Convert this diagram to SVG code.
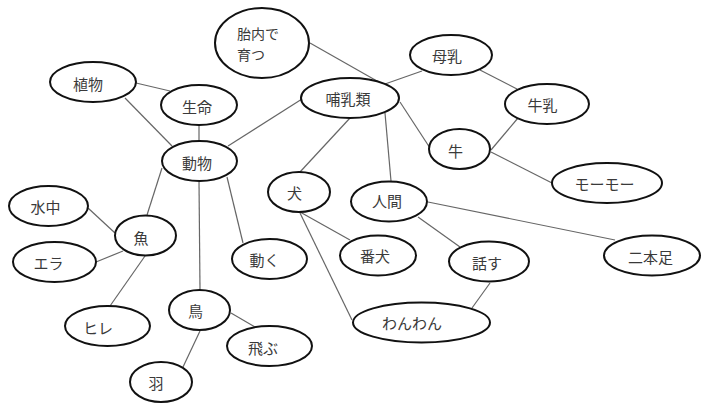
<svg xmlns="http://www.w3.org/2000/svg" width="718" height="414" viewBox="0 0 718 414">
<style>
.n ellipse{fill:#fff;stroke:#111;stroke-width:2}
.n text{font-family:"Noto Sans CJK JP","Noto Sans CJK SC",sans-serif;font-size:15px;fill:#3a3a3a;text-anchor:middle}
#n-tainai text{font-size:14px;text-anchor:start}
#edges line{stroke:#666;stroke-width:1.2}
</style>
<rect width="718" height="414" fill="#fff"/>
<g id="edges">
<line x1="136" y1="83" x2="170" y2="91"/>
<line x1="125" y1="98" x2="172" y2="146"/>
<line x1="199" y1="125" x2="199" y2="141"/>
<line x1="228" y1="146" x2="302" y2="99"/>
<line x1="310" y1="43" x2="384" y2="85"/>
<line x1="385" y1="84" x2="422" y2="71"/>
<line x1="400" y1="102" x2="430" y2="148"/>
<line x1="480" y1="70" x2="517" y2="89"/>
<line x1="518" y1="118" x2="491" y2="150"/>
<line x1="491" y1="152" x2="552" y2="183"/>
<line x1="350" y1="118" x2="300" y2="172"/>
<line x1="385" y1="113" x2="391" y2="181"/>
<line x1="428" y1="202" x2="615" y2="240"/>
<line x1="418" y1="217" x2="460" y2="247"/>
<line x1="300" y1="212" x2="350" y2="240"/>
<line x1="300" y1="213" x2="352" y2="320"/>
<line x1="490" y1="283" x2="472" y2="308"/>
<line x1="162" y1="168" x2="147" y2="215"/>
<line x1="199" y1="181" x2="200" y2="290"/>
<line x1="227" y1="177" x2="243" y2="243"/>
<line x1="88" y1="208" x2="115" y2="233"/>
<line x1="96" y1="262" x2="123" y2="251"/>
<line x1="145" y1="256" x2="110" y2="306"/>
<line x1="231" y1="313" x2="255" y2="327"/>
<line x1="200" y1="331" x2="183" y2="367"/>
</g>
<g id="n-tainai" class="n"><ellipse cx="262" cy="43" rx="47" ry="35"/><text x="237" y="38.5">胎内で</text><text x="237" y="59.5">育つ</text></g>
<g id="n-shokubutsu" class="n"><ellipse cx="93" cy="82" rx="43" ry="20"/><text x="88" y="90">植物</text></g>
<g id="n-seimei" class="n"><ellipse cx="199" cy="105" rx="38" ry="20"/><text x="197" y="112.5">生命</text></g>
<g id="n-doubutsu" class="n"><ellipse cx="199.5" cy="161" rx="37.5" ry="20"/><text x="197" y="168.5">動物</text></g>
<g id="n-honyurui" class="n"><ellipse cx="350" cy="98" rx="49" ry="20"/><text x="348" y="105">哺乳類</text></g>
<g id="n-bonyu" class="n"><ellipse cx="451" cy="55" rx="41" ry="20"/><text x="447" y="62">母乳</text></g>
<g id="n-gyunyu" class="n"><ellipse cx="547" cy="104" rx="42" ry="20"/><text x="542.5" y="110.5">牛乳</text></g>
<g id="n-ushi" class="n"><ellipse cx="459.5" cy="149" rx="30.5" ry="20"/><text x="455.5" y="156.5">牛</text></g>
<g id="n-moomoo" class="n"><ellipse cx="607" cy="183" rx="55" ry="20"/><text x="604.5" y="190">モーモー</text></g>
<g id="n-inu" class="n"><ellipse cx="299" cy="192" rx="31" ry="20"/><text x="294.5" y="199">犬</text></g>
<g id="n-ningen" class="n"><ellipse cx="389" cy="201.5" rx="38" ry="20"/><text x="387" y="207">人間</text></g>
<g id="n-banken" class="n"><ellipse cx="378" cy="255.5" rx="38" ry="20"/><text x="375" y="262">番犬</text></g>
<g id="n-hanasu" class="n"><ellipse cx="489" cy="261.5" rx="40" ry="20"/><text x="487" y="269">話す</text></g>
<g id="n-nihonashi" class="n"><ellipse cx="652" cy="255.5" rx="48" ry="20"/><text x="650.5" y="262.5">二本足</text></g>
<g id="n-wanwan" class="n"><ellipse cx="421.5" cy="322.5" rx="68.5" ry="20"/><text x="412" y="329">わんわん</text></g>
<g id="n-suichu" class="n"><ellipse cx="48.5" cy="206" rx="39.5" ry="20"/><text x="45.5" y="213">水中</text></g>
<g id="n-sakana" class="n"><ellipse cx="145.5" cy="235.5" rx="30.5" ry="20"/><text x="141" y="244">魚</text></g>
<g id="n-era" class="n"><ellipse cx="54.5" cy="262" rx="41.5" ry="20"/><text x="48.5" y="268.5">エラ</text></g>
<g id="n-ugoku" class="n"><ellipse cx="269.5" cy="259" rx="37.5" ry="20"/><text x="264.5" y="266">動く</text></g>
<g id="n-hire" class="n"><ellipse cx="107.5" cy="326" rx="42.5" ry="20"/><text x="98" y="333.5">ヒレ</text></g>
<g id="n-tori" class="n"><ellipse cx="199.5" cy="310" rx="30.5" ry="20"/><text x="195.5" y="317">鳥</text></g>
<g id="n-tobu" class="n"><ellipse cx="269.5" cy="346" rx="42.5" ry="20"/><text x="263" y="353.5">飛ぶ</text></g>
<g id="n-hane" class="n"><ellipse cx="161" cy="382" rx="31" ry="20"/><text x="156" y="389">羽</text></g>
</svg>
